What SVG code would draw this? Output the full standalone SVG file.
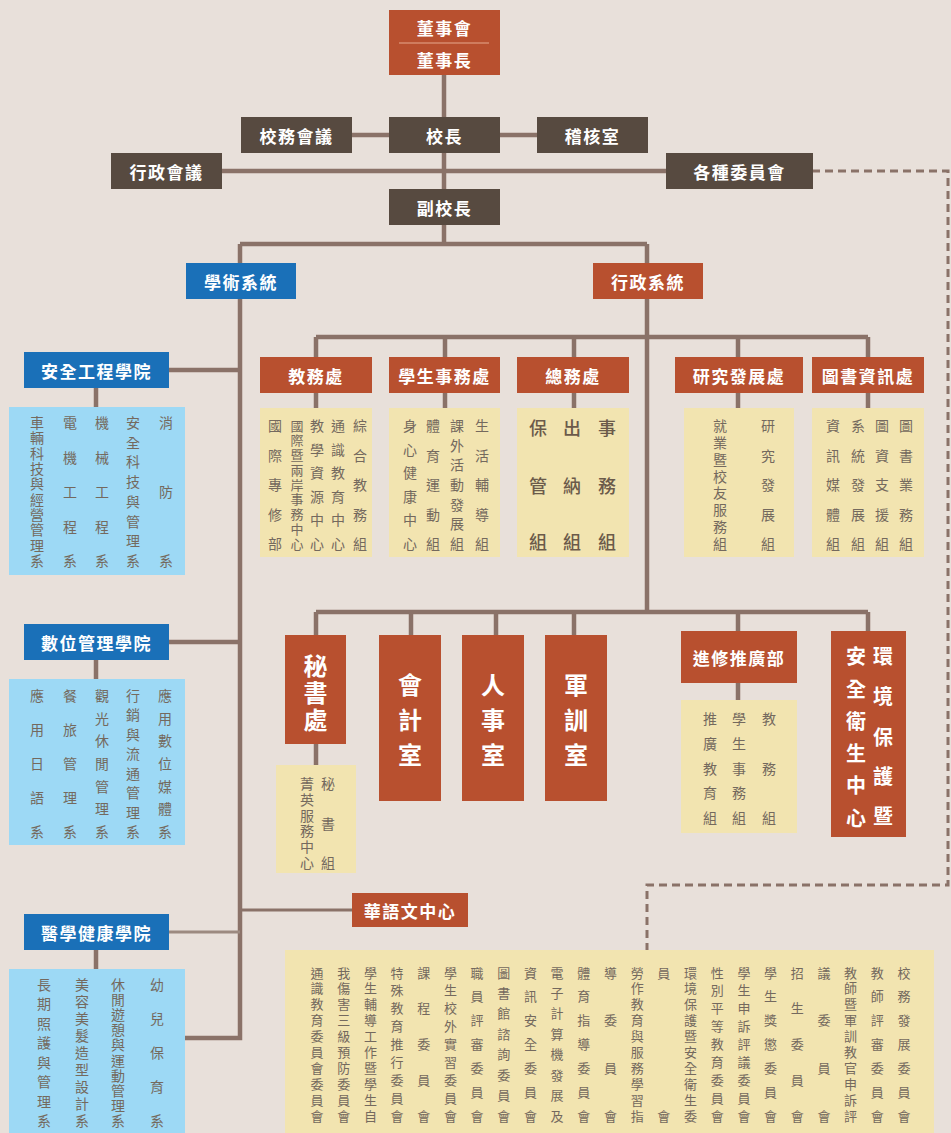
<svg xmlns="http://www.w3.org/2000/svg" width="951" height="1133" viewBox="0 0 951 1133">
<defs>
<style>
.bg{fill:#E8E0DA}
.dk{fill:#574A40}
.rd{fill:#B8502F}
.bl{fill:#1A70B8}
.lb{fill:#9DD9F5}
.yl{fill:#F2E4B0}
.h{font-family:"Noto Sans CJK TC","Noto Sans CJK SC",sans-serif;font-size:17px;font-weight:bold;fill:#FFFFFF;text-anchor:middle;dominant-baseline:central;letter-spacing:1.5px}
.big{font-family:"Noto Sans CJK TC","Noto Sans CJK SC",sans-serif;font-size:24px;font-weight:bold;fill:#FFFFFF;text-anchor:middle;dominant-baseline:central}
.mid{font-family:"Noto Sans CJK TC","Noto Sans CJK SC",sans-serif;font-size:20px;font-weight:bold;fill:#FFFFFF;text-anchor:middle;dominant-baseline:central}
.t{font-family:"Noto Sans CJK TC","Noto Sans CJK SC",sans-serif;font-size:14px;fill:#74695E;text-anchor:middle;dominant-baseline:central}
.s{font-size:13px}
.g{font-family:"Noto Sans CJK TC","Noto Sans CJK SC",sans-serif;font-size:18px;font-weight:500;fill:#6B5A4A;text-anchor:middle;dominant-baseline:central}
.c{font-family:"Noto Sans CJK TC","Noto Sans CJK SC",sans-serif;font-size:13px;fill:#74695E;text-anchor:middle;dominant-baseline:central}
.ln{fill:none;stroke:#8A7268;stroke-width:4.5}
.ln2{fill:none;stroke:#8A7268;stroke-width:3}
.ln3{fill:none;stroke:#9C8A80;stroke-width:3}
.ds{fill:none;stroke:#8A7268;stroke-width:3;stroke-dasharray:8 5}
</style>
</defs>
<rect class="bg" x="0" y="0" width="951" height="1133"/>

<g id="connectors">
<path class="ln" d="M444 75V189M352 135H537M222 171H666M444 225V244M240 244H647M240 244V1038H185M647 244V612"/>
<path class="ln" d="M316 337H868M316 337V357M445 337V357M574 337V357M738 337V357M868 337V357"/>
<path class="ln" d="M316 393V408M445 393V408M574 393V408M738 393V408M868 393V408"/>
<path class="ln" d="M316 612H868M316 612V635M411 612V635M496 612V635M574 612V635M738 612V631M868 612V631"/>
<path class="ln" d="M316 744V765M738 683V700"/>
<path class="ln" d="M169 370H240M169 642H240M96 388V407M96 660V679M96 950V969"/>
<path class="ln3" d="M169 932H240"/>
<path class="ln2" d="M240 910H352"/>
<path class="ds" d="M812 171H948V885H647V950"/>
</g>

<g id="board">
<rect class="rd" x="389" y="10" width="111" height="65"/>
<line x1="399" y1="43" x2="489" y2="43" stroke="#E6A88E" stroke-width="1"/>
<text class="h" x="444.5" y="27">董事會</text>
<text class="h" x="444.5" y="59">董事長</text>
</g>
<g id="school-affairs-meeting"><rect class="dk" x="241" y="117" width="111" height="36"/><text class="h" x="296.5" y="135">校務會議</text></g>
<g id="president"><rect class="dk" x="389" y="117" width="111" height="36"/><text class="h" x="444.5" y="135">校長</text></g>
<g id="audit"><rect class="dk" x="537" y="117" width="111" height="36"/><text class="h" x="592.5" y="135">稽核室</text></g>
<g id="admin-meeting"><rect class="dk" x="111" y="153" width="111" height="36"/><text class="h" x="166.5" y="171">行政會議</text></g>
<g id="committees-head"><rect class="dk" x="666" y="153" width="147" height="36"/><text class="h" x="739.5" y="171">各種委員會</text></g>
<g id="vice-president"><rect class="dk" x="389" y="189" width="111" height="36"/><text class="h" x="444.5" y="207">副校長</text></g>

<g id="academic"><rect class="bl" x="186" y="263" width="110" height="36"/><text class="h" x="241" y="281">學術系統</text></g>
<g id="administrative"><rect class="rd" x="593" y="263" width="110" height="36"/><text class="h" x="648" y="281">行政系統</text></g>

<g id="college-safety">
<rect class="bl" x="24" y="352" width="145" height="36"/><text class="h" x="96.5" y="370">安全工程學院</text>
<rect class="lb" x="9" y="407" width="176" height="168"/>
<text class="t" x="37 37 37 37 37 37 37 37 37 37" y="422 437.3 452.7 468 483.3 498.7 514 529.3 544.7 560">車輛科技與經營管理系</text>
<text class="t" x="70 70 70 70 70" y="422 456.5 491 525.5 560">電機工程系</text>
<text class="t" x="102 102 102 102 102" y="422 456.5 491 525.5 560">機械工程系</text>
<text class="t" x="133 133 133 133 133 133 133 133" y="422 441.7 461.4 481.1 500.9 520.6 540.3 560">安全科技與管理系</text>
<text class="t" x="166 166 166" y="422 491 560">消防系</text>
</g>

<g id="college-digital">
<rect class="bl" x="24" y="624" width="145" height="36"/><text class="h" x="96.5" y="642">數位管理學院</text>
<rect class="lb" x="9" y="679" width="176" height="166"/>
<text class="t" x="37 37 37 37 37" y="695 729 763 797 831">應用日語系</text>
<text class="t" x="70 70 70 70 70" y="695 729 763 797 831">餐旅管理系</text>
<text class="t" x="102 102 102 102 102 102 102" y="695 717.7 740.3 763 785.7 808.3 831">觀光休閒管理系</text>
<text class="t" x="133 133 133 133 133 133 133 133" y="695 714.4 733.9 753.3 772.7 792.1 811.6 831">行銷與流通管理系</text>
<text class="t" x="165 165 165 165 165 165 165" y="695 717.7 740.3 763 785.7 808.3 831">應用數位媒體系</text>
</g>

<g id="college-medical">
<rect class="bl" x="24" y="914" width="145" height="36"/><text class="h" x="96.5" y="932">醫學健康學院</text>
<rect class="lb" x="9" y="969" width="176" height="164"/>
<text class="t" x="44 44 44 44 44 44 44 44" y="984 1003.4 1022.9 1042.3 1061.7 1081.1 1100.6 1120">長期照護與管理系</text>
<text class="t" x="82 82 82 82 82 82 82 82 82" y="984 1001 1018 1035 1052 1069 1086 1103 1120">美容美髮造型設計系</text>
<text class="t" x="118 118 118 118 118 118 118 118 118 118" y="984 999.1 1014.2 1029.3 1044.4 1059.6 1074.7 1089.8 1104.9 1120">休閒遊憩與運動管理系</text>
<text class="t" x="157 157 157 157 157" y="984 1018 1052 1086 1120">幼兒保育系</text>
</g>

<g id="academic-affairs">
<rect class="rd" x="260" y="357" width="112" height="36"/><text class="h" x="316" y="375">教務處</text>
<rect class="yl" x="260" y="408" width="112" height="149"/>
<text class="t" x="275 275 275 275 275" y="425 454.5 484 513.5 543">國際專修部</text>
<text class="t s" x="297 297 297 297 297 297 297 297 297" y="425 439.75 454.5 469.25 484 498.75 513.5 528.25 543">國際暨兩岸事務中心</text>
<text class="t" x="317 317 317 317 317 317" y="425 448.6 472.2 495.8 519.4 543">教學資源中心</text>
<text class="t" x="338 338 338 338 338 338" y="425 448.6 472.2 495.8 519.4 543">通識教育中心</text>
<text class="t" x="360 360 360 360 360" y="425 454.5 484 513.5 543">綜合教務組</text>
</g>

<g id="student-affairs">
<rect class="rd" x="389" y="357" width="111" height="36"/><text class="h" x="444.5" y="375">學生事務處</text>
<rect class="yl" x="389" y="408" width="111" height="149"/>
<text class="t" x="410 410 410 410 410 410" y="425 448.6 472.2 495.8 519.4 543">身心健康中心</text>
<text class="t" x="433 433 433 433 433" y="425 454.5 484 513.5 543">體育運動組</text>
<text class="t" x="457 457 457 457 457 457 457" y="425 444.7 464.3 484 503.7 523.3 543">課外活動發展組</text>
<text class="t" x="482 482 482 482 482" y="425 454.5 484 513.5 543">生活輔導組</text>
</g>

<g id="general-affairs">
<rect class="rd" x="517" y="357" width="112" height="36"/><text class="h" x="573" y="375">總務處</text>
<rect class="yl" x="517" y="408" width="112" height="149"/>
<text class="g" x="538 538 538" y="427 485 541">保管組</text>
<text class="g" x="572 572 572" y="427 485 541">出納組</text>
<text class="g" x="607 607 607" y="427 485 541">事務組</text>
</g>

<g id="research">
<rect class="rd" x="675" y="357" width="128" height="36"/><text class="h" x="739" y="375">研究發展處</text>
<rect class="yl" x="684" y="408" width="110" height="149"/>
<text class="t" x="720 720 720 720 720 720 720 720" y="425 441.9 458.7 475.6 492.4 509.3 526.1 543">就業暨校友服務組</text>
<text class="t" x="768 768 768 768 768" y="425 454.5 484 513.5 543">研究發展組</text>
</g>

<g id="library">
<rect class="rd" x="812" y="357" width="112" height="36"/><text class="h" x="868" y="375">圖書資訊處</text>
<rect class="yl" x="812" y="408" width="112" height="149"/>
<text class="t" x="833 833 833 833 833" y="425 454.5 484 513.5 543">資訊媒體組</text>
<text class="t" x="858 858 858 858 858" y="425 454.5 484 513.5 543">系統發展組</text>
<text class="t" x="882 882 882 882 882" y="425 454.5 484 513.5 543">圖資支援組</text>
<text class="t" x="906 906 906 906 906" y="425 454.5 484 513.5 543">圖書業務組</text>
</g>

<g id="secretariat">
<rect class="rd" x="285" y="635" width="61" height="109"/>
<text class="big" x="315.5 315.5 315.5" y="664 691 718">秘書處</text>
<rect class="yl" x="276" y="765" width="80" height="108"/>
<text class="t" x="307 307 307 307 307 307" y="783 798.8 814.6 830.4 846.2 862">菁英服務中心</text>
<text class="t" x="328 328 328" y="783 822.5 862">秘書組</text>
</g>

<g id="accounting"><rect class="rd" x="379" y="635" width="62" height="166"/><text class="big" x="410 410 410" y="683 718 753">會計室</text></g>
<g id="personnel"><rect class="rd" x="462" y="635" width="62" height="166"/><text class="big" x="493 493 493" y="683 718 753">人事室</text></g>
<g id="military"><rect class="rd" x="545" y="635" width="62" height="166"/><text class="big" x="576 576 576" y="683 718 753">軍訓室</text></g>

<g id="extension">
<rect class="rd" x="681" y="631" width="116" height="52"/><text class="h" x="739" y="657">進修推廣部</text>
<rect class="yl" x="681" y="700" width="116" height="133"/>
<text class="t" x="710 710 710 710 710" y="718 743 768 792 817">推廣教育組</text>
<text class="t" x="739 739 739 739 739" y="718 743 768 792 817">學生事務組</text>
<text class="t" x="769 769 769" y="718 768 817">教務組</text>
</g>

<g id="env-safety">
<rect class="rd" x="831" y="631" width="75" height="206"/>
<text class="mid" x="883 883 883 883 883" y="655 695 736 775 815">環境保護暨</text>
<text class="mid" x="856 856 856 856 856 856" y="655 688 720 752 784 817">安全衛生中心</text>
</g>

<g id="chinese-center"><rect class="rd" x="352" y="893" width="116" height="34"/><text class="h" x="410" y="910">華語文中心</text></g>

<g id="committees">
<rect class="yl" x="285" y="950" width="649" height="183"/>
<text class="c" x="317 317 317 317 317 317 317 317 317 317" y="972 987.9 1003.8 1019.7 1035.6 1051.4 1067.3 1083.2 1099.1 1115">通識教育委員會委員會</text>
<text class="c" x="343.7 343.7 343.7 343.7 343.7 343.7 343.7 343.7 343.7 343.7" y="972 987.9 1003.8 1019.7 1035.6 1051.4 1067.3 1083.2 1099.1 1115">我傷害三級預防委員會</text>
<text class="c" x="370.4 370.4 370.4 370.4 370.4 370.4 370.4 370.4 370.4 370.4" y="972 987.9 1003.8 1019.7 1035.6 1051.4 1067.3 1083.2 1099.1 1115">學生輔導工作暨學生自</text>
<text class="c" x="397 397 397 397 397 397 397 397 397" y="972 989.9 1007.8 1025.6 1043.5 1061.4 1079.3 1097.1 1115">特殊教育推行委員會</text>
<text class="c" x="423.7 423.7 423.7 423.7 423.7" y="972 1007.75 1043.5 1079.25 1115">課程委員會</text>
<text class="c" x="450.4 450.4 450.4 450.4 450.4 450.4 450.4 450.4 450.4" y="972 989.9 1007.8 1025.6 1043.5 1061.4 1079.3 1097.1 1115">學生校外實習委員會</text>
<text class="c" x="477.1 477.1 477.1 477.1 477.1 477.1 477.1" y="972 995.8 1019.7 1043.5 1067.3 1091.2 1115">職員評審委員會</text>
<text class="c" x="503.8 503.8 503.8 503.8 503.8 503.8 503.8 503.8" y="972 992.4 1012.9 1033.3 1053.7 1074.1 1094.6 1115">圖書館諮詢委員會</text>
<text class="c" x="530.4 530.4 530.4 530.4 530.4 530.4 530.4" y="972 995.8 1019.7 1043.5 1067.3 1091.2 1115">資訊安全委員會</text>
<text class="c" x="557.1 557.1 557.1 557.1 557.1 557.1 557.1 557.1" y="972 992.4 1012.9 1033.3 1053.7 1074.1 1094.6 1115">電子計算機發展及</text>
<text class="c" x="583.8 583.8 583.8 583.8 583.8 583.8 583.8" y="972 995.8 1019.7 1043.5 1067.3 1091.2 1115">體育指導委員會</text>
<text class="c" x="610.5 610.5 610.5 610.5" y="972 1019.7 1067.3 1115">導委員會</text>
<text class="c" x="637.2 637.2 637.2 637.2 637.2 637.2 637.2 637.2 637.2 637.2" y="972 987.9 1003.8 1019.7 1035.6 1051.4 1067.3 1083.2 1099.1 1115">勞作教育與服務學習指</text>
<text class="c" x="663.8 663.8" y="972 1115">員會</text>
<text class="c" x="690.5 690.5 690.5 690.5 690.5 690.5 690.5 690.5 690.5 690.5" y="972 987.9 1003.8 1019.7 1035.6 1051.4 1067.3 1083.2 1099.1 1115">環境保護暨安全衛生委</text>
<text class="c" x="717.2 717.2 717.2 717.2 717.2 717.2 717.2 717.2 717.2" y="972 989.9 1007.8 1025.6 1043.5 1061.4 1079.3 1097.1 1115">性別平等教育委員會</text>
<text class="c" x="743.9 743.9 743.9 743.9 743.9 743.9 743.9 743.9 743.9" y="972 989.9 1007.8 1025.6 1043.5 1061.4 1079.3 1097.1 1115">學生申訴評議委員會</text>
<text class="c" x="770.6 770.6 770.6 770.6 770.6 770.6 770.6" y="972 995.8 1019.7 1043.5 1067.3 1091.2 1115">學生獎懲委員會</text>
<text class="c" x="797.2 797.2 797.2 797.2 797.2" y="972 1007.75 1043.5 1079.25 1115">招生委員會</text>
<text class="c" x="823.9 823.9 823.9 823.9" y="972 1019.7 1067.3 1115">議委員會</text>
<text class="c" x="850.6 850.6 850.6 850.6 850.6 850.6 850.6 850.6 850.6 850.6" y="972 987.9 1003.8 1019.7 1035.6 1051.4 1067.3 1083.2 1099.1 1115">教師暨軍訓教官申訴評</text>
<text class="c" x="877.3 877.3 877.3 877.3 877.3 877.3 877.3" y="972 995.8 1019.7 1043.5 1067.3 1091.2 1115">教師評審委員會</text>
<text class="c" x="904 904 904 904 904 904 904" y="972 995.8 1019.7 1043.5 1067.3 1091.2 1115">校務發展委員會</text>
</g>
</svg>
